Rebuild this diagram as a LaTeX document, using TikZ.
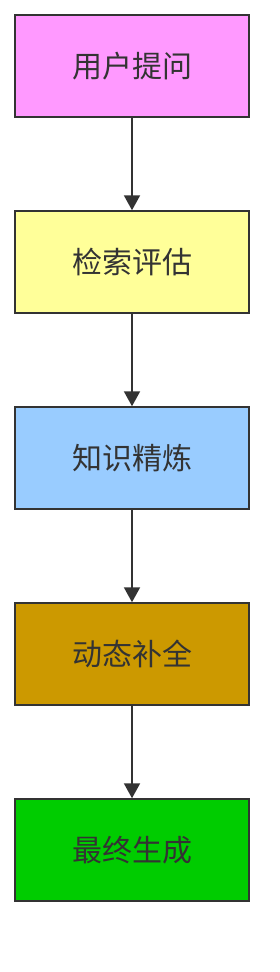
\documentclass[tikz,border=0pt]{standalone}
\usepackage{fontspec}
\setmainfont{Noto Sans CJK SC}
\usetikzlibrary{arrows.meta}
\definecolor{edge}{HTML}{333333}
\definecolor{cA}{HTML}{FF99FF}
\definecolor{cB}{HTML}{FFFF99}
\definecolor{cC}{HTML}{99CCFF}
\definecolor{cD}{HTML}{CC9900}
\definecolor{cE}{HTML}{00CC00}
\tikzset{
  stepbox/.style={draw=edge, line width=1.5pt, minimum width=234pt, minimum height=102pt, inner sep=0pt, text=edge, font=\fontsize{30}{32}\selectfont},
  flow/.style={draw=edge, line width=2pt, -{Triangle[length=15pt,width=16pt]}}
}
\begin{document}
\begin{tikzpicture}[x=1pt,y=-1pt]
\useasboundingbox (0,0) rectangle (280,972);
\node[stepbox, fill=cA] (a) at (132,66) {用户提问};
\node[stepbox, fill=cB] (b) at (132,262) {检索评估};
\node[stepbox, fill=cC] (c) at (132,458) {知识精炼};
\node[stepbox, fill=cD] (d) at (132,654) {动态补全};
\node[stepbox, fill=cE] (e) at (132,850) {最终生成};
\draw[flow] (a) -- (b);
\draw[flow] (b) -- (c);
\draw[flow] (c) -- (d);
\draw[flow] (d) -- (e);
\end{tikzpicture}
\end{document}
